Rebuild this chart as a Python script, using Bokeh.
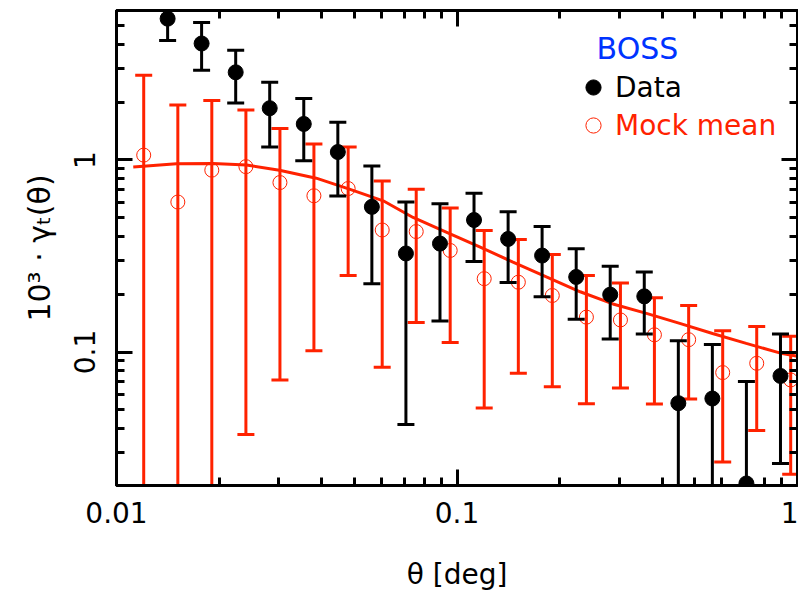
import numpy as np
from bokeh.plotting import figure
from bokeh.models import (FixedTicker, LogAxis, Legend, LegendItem, Label,
                          ColumnDataSource, Range1d, CustomJSTickFormatter)
from bokeh.embed import file_html
from bokeh.resources import INLINE

# ---------------- data ----------------
theta_data = [0.01413, 0.01778, 0.02239, 0.02818, 0.03548, 0.04467, 0.05623, 0.07079,
              0.08913, 0.1122, 0.1413, 0.1778, 0.2239, 0.2818, 0.3548, 0.4467, 0.5623,
              0.7079, 0.8913]
gamma_data = [5.44, 4.04, 2.86, 1.86, 1.54, 1.10, 0.57, 0.326, 0.367, 0.487, 0.388,
              0.318, 0.246, 0.199, 0.195, 0.0542, 0.0573, 0.0207, 0.0751]
data_hi = [6.69, 5.19, 3.73, 2.54, 2.09, 1.57, 0.93, 0.605, 0.592, 0.672, 0.538,
           0.450, 0.345, 0.280, 0.261, 0.1146, 0.1096, 0.0702, 0.124]
data_lo = [4.19, 2.93, 1.98, 1.17, 0.99, 0.65, 0.227, 0.042, 0.145, 0.296, 0.230,
           0.194, 0.148, 0.117, 0.124, -0.006, 0.005, -0.029, 0.0263]

theta_mock = [0.01202, 0.01514, 0.01905, 0.02399, 0.0302, 0.0380, 0.0479, 0.0603,
              0.0759, 0.0955, 0.1202, 0.1514, 0.1905, 0.2399, 0.302, 0.380, 0.479,
              0.603, 0.759, 0.955]
gamma_mock = [1.06, 0.604, 0.885, 0.923, 0.763, 0.651, 0.710, 0.432, 0.424, 0.338,
              0.241, 0.231, 0.197, 0.152, 0.147, 0.123, 0.116, 0.0782, 0.0874, 0.0716]
mock_hi = [2.76, 1.93, 2.04, 1.82, 1.46, 1.21, 1.17, 0.778, 0.705, 0.562, 0.429,
           0.385, 0.322, 0.250, 0.229, 0.192, 0.175, 0.129, 0.136, 0.121]
mock_lo = [-0.64, -0.72, -0.27, 0.0372, 0.0716, 0.1016, 0.250, 0.0833, 0.1425, 0.112,
           0.0511, 0.0776, 0.066, 0.0538, 0.065, 0.0536, 0.0569, 0.0268, 0.0391, 0.0231]

theta_model = [0.0112, 0.0150, 0.0192, 0.0241, 0.0301, 0.0386, 0.0483, 0.0607, 0.0743,
               0.0933, 0.117, 0.146, 0.183, 0.230, 0.287, 0.360, 0.451, 0.563, 0.707,
               0.886, 1.0]
gamma_model = [0.92, 0.957, 0.960, 0.942, 0.884, 0.804, 0.705, 0.613, 0.502, 0.420,
               0.352, 0.294, 0.246, 0.206, 0.178, 0.159, 0.141, 0.125, 0.111, 0.099,
               0.095]

x_major = [0.01, 0.1, 1]
x_minor = [0.02, 0.03, 0.04, 0.05, 0.06, 0.07, 0.08, 0.09,
           0.2, 0.3, 0.4, 0.5, 0.6, 0.7, 0.8, 0.9]
y_major = [0.01, 0.1, 1, 10]
y_minor = [0.02, 0.03, 0.04, 0.05, 0.06, 0.07, 0.08, 0.09,
           0.2, 0.3, 0.4, 0.5, 0.6, 0.7, 0.8, 0.9,
           2, 3, 4, 5, 6, 7, 8, 9]

RED = "#ff2200"
BLACK = "#000000"
BLUE = "#0033ff"
FONT = "DejaVu Sans"
FLOOR = 1e-4  # draw floor for error bars that go below zero on a log axis

# ---------------- figure ----------------
p = figure(width=798, height=597, x_axis_type="log", y_axis_type="log",
           x_range=Range1d(0.01, 1.0), y_range=Range1d(0.0202, 6.0),
           output_backend="svg", toolbar_location=None,
           min_border_left=116, min_border_right=1, min_border_top=10,
           min_border_bottom=112)
p.xgrid.visible = False
p.ygrid.visible = False
p.outline_line_color = BLACK
p.outline_line_width = 3
p.background_fill_color = "white"
p.border_fill_color = "white"

fmt = CustomJSTickFormatter(code="return String(tick)")
blank_fmt = CustomJSTickFormatter(code="return ''")


def style_axis(ax, ticks, minor, labels=True):
    ax.ticker = FixedTicker(ticks=ticks, minor_ticks=minor)
    ax.axis_line_width = 3
    ax.axis_line_color = BLACK
    ax.major_tick_in = 16
    ax.major_tick_out = 0
    ax.minor_tick_in = 8
    ax.minor_tick_out = 0
    ax.major_tick_line_width = 3
    ax.minor_tick_line_width = 3
    ax.major_tick_line_color = BLACK
    ax.minor_tick_line_color = BLACK
    if labels:
        ax.formatter = fmt
        ax.major_label_text_font = FONT
        ax.major_label_text_font_size = "28px"
        ax.major_label_text_color = BLACK
        ax.axis_label_text_font = FONT
        ax.axis_label_text_font_size = "28px"
        ax.axis_label_text_font_style = "normal"
        ax.axis_label_text_color = BLACK
    else:
        ax.formatter = blank_fmt
        ax.major_label_text_font_size = "1px"
        ax.major_label_standoff = 0


xax = p.xaxis[0]
yax = p.yaxis[0]
style_axis(xax, x_major, x_minor)
style_axis(yax, y_major, y_minor)
xax.major_label_standoff = 16
xax.axis_label = "θ [deg]"
xax.axis_label_standoff = 32
yax.major_label_standoff = 21
yax.axis_label = "10³ · γₜ(θ)"
yax.axis_label_text_font_size = "30px"
yax.axis_label_standoff = 15
yax.major_label_orientation = "vertical"

top_ax = LogAxis()
right_ax = LogAxis()
style_axis(top_ax, x_major, x_minor, labels=False)
style_axis(right_ax, y_major, y_minor, labels=False)
p.add_layout(top_ax, "above")
p.add_layout(right_ax, "right")

# ---------------- glyphs ----------------
mock_src = ColumnDataSource(dict(
    x=theta_mock, y=gamma_mock,
    lo=np.clip(np.array(mock_lo), FLOOR, None), hi=mock_hi))
data_src = ColumnDataSource(dict(
    x=theta_data, y=gamma_data,
    lo=np.clip(np.array(data_lo), FLOOR, None), hi=data_hi))
model_src = ColumnDataSource(dict(x=theta_model, y=gamma_model))

p.line("x", "y", source=model_src, line_color=RED, line_width=3)

# mock mean error bars + open circles
p.segment(x0="x", y0="lo", x1="x", y1="hi", source=mock_src, line_color=RED, line_width=3)
p.scatter("x", "hi", source=mock_src, marker="dash", size=17, line_color=RED, line_width=3)
p.scatter("x", "lo", source=mock_src, marker="dash", size=17, line_color=RED, line_width=3)
mock_r = p.scatter("x", "y", source=mock_src, marker="circle", size=14,
                   fill_color=None, line_color=RED, line_width=1)

# data error bars + filled circles
p.segment(x0="x", y0="lo", x1="x", y1="hi", source=data_src, line_color=BLACK, line_width=3)
p.scatter("x", "hi", source=data_src, marker="dash", size=17, line_color=BLACK, line_width=3)
p.scatter("x", "lo", source=data_src, marker="dash", size=17, line_color=BLACK, line_width=3)
data_r = p.scatter("x", "y", source=data_src, marker="circle", size=15,
                   fill_color=BLACK, line_color=BLACK)

# ---------------- legend ----------------
def make_legend(label, rend, color, loc):
    lg = Legend(items=[LegendItem(label=label, renderers=[rend])], location=loc,
                glyph_width=38, glyph_height=38, label_standoff=3, spacing=0,
                padding=0, margin=0, border_line_alpha=0, background_fill_alpha=0,
                label_text_font=FONT, label_text_font_size="28px",
                label_text_color=color)
    p.add_layout(lg)


make_legend("Data", data_r, BLACK, (458, 379))
make_legend("Mock mean", mock_r, RED, (458, 341))

p.add_layout(Label(x=0.257, y=3.79, text="BOSS", text_color=BLUE,
                   text_font=FONT, text_font_size="30px", text_baseline="middle"))

open("out.html", "w").write(file_html(p, INLINE))
